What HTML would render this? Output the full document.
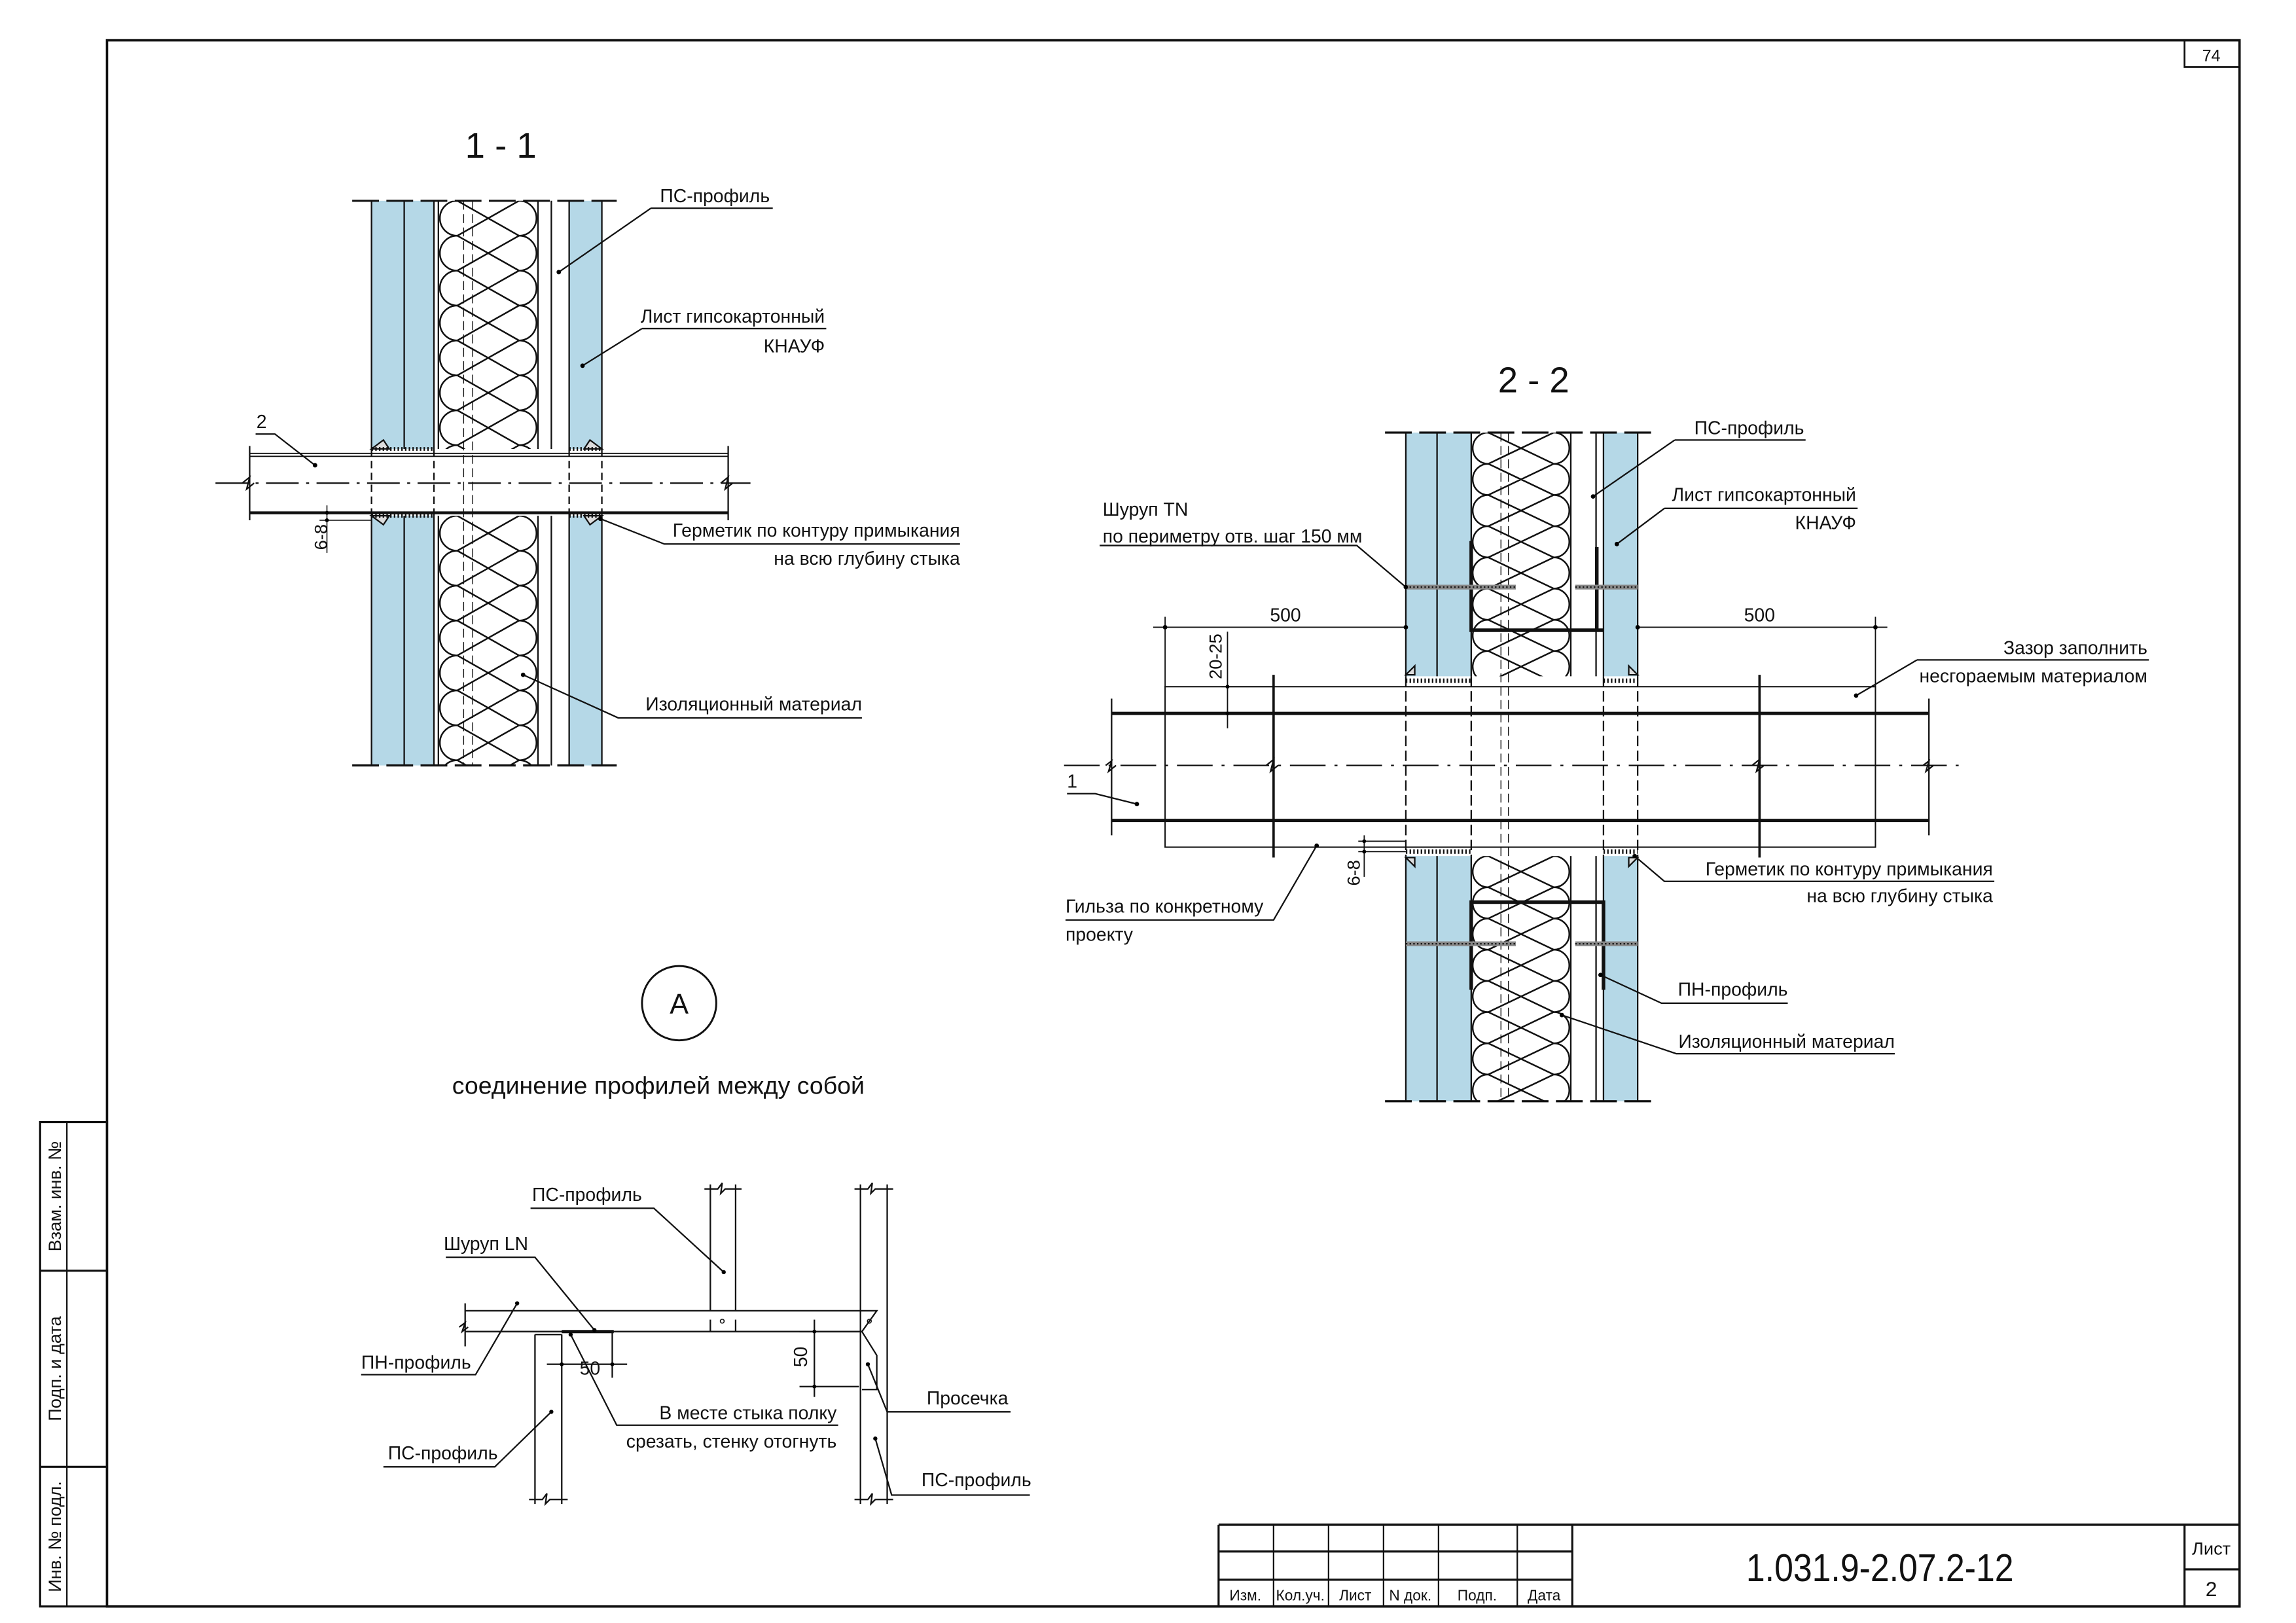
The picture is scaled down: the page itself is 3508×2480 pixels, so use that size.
<!DOCTYPE html>
<html><head><meta charset="utf-8"><style>
html,body{margin:0;padding:0;background:#fff}
svg{display:block}
text{font-family:"Liberation Sans Narrow","Liberation Sans",sans-serif;fill:#111}
</style></head><body>
<svg id="s" width="3508" height="2480" viewBox="0 0 1545 1092" xmlns="http://www.w3.org/2000/svg">
<defs>
<clipPath id="c1a"><rect x="293" y="135" width="71" height="167"/></clipPath>
<clipPath id="c1b"><rect x="293" y="347" width="71" height="168"/></clipPath>
<clipPath id="c2a"><rect x="988" y="291" width="71" height="164"/></clipPath>
<clipPath id="c2b"><rect x="988" y="576" width="71" height="165"/></clipPath>
</defs>
<rect width="1545" height="1092" fill="#fff"/>
<!-- frame -->
<g fill="none" stroke="#111">
<rect x="72" y="27" width="1435" height="1054" stroke-width="1.6"/>
<rect x="1470" y="27" width="37" height="18" stroke-width="1.2"/>
<rect x="27" y="755" width="45" height="326" stroke-width="1.4"/>
<line x1="45" y1="755" x2="45" y2="1081" stroke-width="1"/>
<line x1="27" y1="855" x2="72" y2="855" stroke-width="1.4"/>
<line x1="27" y1="987" x2="72" y2="987" stroke-width="1.4"/>
<line x1="820" y1="1026" x2="1507" y2="1026" stroke-width="1.6"/>
<line x1="820" y1="1026" x2="820" y2="1081" stroke-width="1.4"/>
<line x1="857" y1="1026" x2="857" y2="1081" stroke-width="1"/>
<line x1="894" y1="1026" x2="894" y2="1081" stroke-width="1"/>
<line x1="931" y1="1026" x2="931" y2="1081" stroke-width="1"/>
<line x1="968" y1="1026" x2="968" y2="1081" stroke-width="1"/>
<line x1="1021" y1="1026" x2="1021" y2="1081" stroke-width="1"/>
<line x1="1058" y1="1026" x2="1058" y2="1081" stroke-width="1.4"/>
<line x1="820" y1="1044" x2="1058" y2="1044" stroke-width="1.4"/>
<line x1="820" y1="1063" x2="1058" y2="1063" stroke-width="1.4"/>
<line x1="1470" y1="1026" x2="1470" y2="1081" stroke-width="1.4"/>
<line x1="1470" y1="1056" x2="1507" y2="1056" stroke-width="1.4"/>
</g>
<g font-size="10" text-anchor="middle">
<text x="838" y="1077">Изм.</text><text x="875" y="1077">Кол.уч.</text><text x="912" y="1077">Лист</text>
<text x="949" y="1077">N док.</text><text x="994" y="1077">Подп.</text><text x="1039" y="1077">Дата</text>
<text x="1488" y="1046" font-size="12">Лист</text><text x="1488" y="1074" font-size="14">2</text>
<text x="1488" y="41" font-size="11">74</text>
<text x="1265" y="1064" font-size="26" textLength="180" lengthAdjust="spacingAndGlyphs">1.031.9-2.07.2-12</text>
</g>
<g font-size="12" text-anchor="middle">
<text transform="translate(41,805) rotate(-90)">Взам. инв. №</text>
<text transform="translate(41,921) rotate(-90)">Подп. и дата</text>
<text transform="translate(41,1034) rotate(-90)">Инв. № подл.</text>
</g>

<!-- ============ 1-1 ============ -->
<text x="337" y="106" font-size="24" text-anchor="middle" font-family="Liberation Sans,sans-serif">1 - 1</text>
<g>
<rect x="250" y="135" width="42" height="167" fill="#b5d8e7"/>
<rect x="250" y="347" width="42" height="168" fill="#b5d8e7"/>
<rect x="383" y="135" width="22" height="167" fill="#b5d8e7"/>
<rect x="383" y="347" width="22" height="168" fill="#b5d8e7"/>
<g stroke="#111" stroke-width="1" fill="none">
<path d="M250 135V302M272 135V302M292 135V302M295 135V302M362 135V302M371 135V302M383 135V302M405 135V302"/>
<path d="M250 347V515M272 347V515M292 347V515M295 347V515M362 347V515M371 347V515M383 347V515M405 347V515"/>
<path d="M312 135V515M318 135V515" stroke-dasharray="6 3" stroke-width="0.6"/>
<path d="M250 302V347M292 302V347M383 302V347M405 302V347" stroke-dasharray="5 3"/>
<path d="M237 135H415M237 515H415" stroke-dasharray="18 5" stroke-width="1.4"/>
<g id="ins1a" clip-path="url(#c1a)"></g><g id="ins1b" clip-path="url(#c1b)"></g>
<path d="M250 302 L258 296 L262 302 Z M250 347 L258 353 L262 347 Z M405 302 L397 296 L393 302 Z M405 347 L397 353 L393 347 Z" fill="#ddd"/>
<path d="M250 302H292M383 302H405M250 347H292M383 347H405" stroke-dasharray="1 1.5" stroke-width="2.5"/>
<path d="M168 305H490M168 307H490" stroke-width="0.8"/>
<path d="M168 345H490" stroke-width="2"/>
<path d="M168 300V350M490 300V350"/>
<path d="M145 325H505" stroke-dasharray="22 5 2 5"/>
<path d="M163 325 l5 -4 l-2 8 l5 -4M485 325 l5 -4 l-2 8 l5 -4"/>
<path d="M220 340V372M215 345H250M215 350H250" stroke-width="0.7"/>
</g>
<circle cx="220" cy="345" r="1.3"/><circle cx="220" cy="350" r="1.3"/>
<text transform="translate(220,370) rotate(-90)" font-size="12">6-8</text>
<g stroke="#111" stroke-width="1" fill="none">
<path d="M438 140H520M438 140L376 183"/>
<path d="M432 221H556M432 221L392 246"/>
<path d="M172 292H185L212 313"/>
<path d="M404 349L447 366H646"/>
<path d="M352 454L416 483H580"/>
</g>
<circle cx="376" cy="183" r="1.5"/><circle cx="392" cy="246" r="1.5"/><circle cx="212" cy="313" r="1.5"/><circle cx="404" cy="349" r="1.5"/><circle cx="352" cy="454" r="1.5"/>
<g font-size="12.5">
<text x="518" y="136" text-anchor="end">ПС-профиль</text>
<text x="555" y="217" text-anchor="end">Лист гипсокартонный</text>
<text x="555" y="237" text-anchor="end">КНАУФ</text>
<text x="176" y="288" text-anchor="middle">2</text>
<text x="646" y="361" text-anchor="end">Герметик по контуру примыкания</text>
<text x="646" y="380" text-anchor="end">на всю глубину стыка</text>
<text x="580" y="478" text-anchor="end">Изоляционный материал</text>
</g>
</g>

<!-- ============ 2-2 ============ -->
<text x="1032" y="264" font-size="24" text-anchor="middle" font-family="Liberation Sans,sans-serif">2 - 2</text>
<g>
<rect x="946" y="291" width="44" height="164" fill="#b5d8e7"/>
<rect x="946" y="576" width="44" height="165" fill="#b5d8e7"/>
<rect x="1079" y="291" width="23" height="164" fill="#b5d8e7"/>
<rect x="1079" y="576" width="23" height="165" fill="#b5d8e7"/>
<g stroke="#111" stroke-width="1" fill="none">
<path d="M946 291V455M967 291V455M990 291V455M1057 291V455M1074 291V455M1079 291V455M1102 291V455"/>
<path d="M946 576V741M967 576V741M990 576V741M1057 576V741M1074 576V741M1079 576V741M1102 576V741"/>
<path d="M1010 291V741M1015 291V741" stroke-dasharray="6 3" stroke-width="0.6"/>
<path d="M946 455V576M990 455V576M1079 455V576M1102 455V576" stroke-dasharray="7 3"/>
<path d="M932 291H1115M932 741H1115" stroke-dasharray="18 5" stroke-width="1.4"/>
<g id="ins2a" clip-path="url(#c2a)"></g><g id="ins2b" clip-path="url(#c2b)"></g>
<path d="M990 364V424H1079M1074.5 368V424" stroke-width="2.4"/>
<path d="M990 666V607H1079V666" stroke-width="2.4"/>
<path d="M946 395H1020M1060 395H1102M946 635H1020M1060 635H1102" stroke-width="3.2" stroke="#888"/>
<path d="M946 395H1020M1060 395H1102M946 635H1020M1060 635H1102" stroke-width="1" stroke-dasharray="1 1.5"/>
<path d="M946 458H990M1079 458H1102M946 573H990M1079 573H1102" stroke-dasharray="1 1.5" stroke-width="3"/>
<path d="M946 454l6 -6v6zM1102 454l-6 -6v6zM946 577l6 6v-6zM1102 577l-6 6v-6z" fill="#ddd"/>
<rect x="784" y="462" width="478" height="108" stroke-width="0.9"/>
<path d="M748 480H1298M748 552H1298" stroke-width="2.2"/>
<path d="M748 470V562M1298 470V562"/>
<path d="M716 515H1321" stroke-dasharray="24 6 2 6"/>
<path d="M744 515l4 -3l-2 7l5 -4M1294 515l4 -3l-2 7l5 -4"/>
<path d="M857 454V577M1184 454V577" stroke-width="1.6"/>
<path d="M852 515l5 -4l-2 8l5 -4M1179 515l5 -4l-2 8l5 -4"/>
<path d="M784 415V462M1262 415V462M776 422H946M1102 422H1270" stroke-width="0.8"/>
<path d="M826 425V490M822 462H857M822 480H857" stroke-width="0.8"/>
<path d="M918 562V590M914 566H946M914 573H946" stroke-width="0.8"/>
</g>
<g font-size="12.5">
<circle cx="784" cy="422" r="1.5"/><circle cx="946" cy="422" r="1.5"/><circle cx="1102" cy="422" r="1.5"/><circle cx="1262" cy="422" r="1.5"/>
<circle cx="826" cy="462" r="1.3"/><circle cx="826" cy="480" r="1.3"/><circle cx="918" cy="566" r="1.3"/><circle cx="918" cy="573" r="1.3"/>
<text x="865" y="418" text-anchor="middle">500</text>
<text x="1184" y="418" text-anchor="middle">500</text>
<text transform="translate(822,457) rotate(-90)" font-size="12">20-25</text>
<text transform="translate(915,596) rotate(-90)" font-size="12">6-8</text>
</g>
<g stroke="#111" stroke-width="1" fill="none">
<path d="M1127 296H1215M1127 296L1072 334"/>
<path d="M1120 342H1250M1120 342L1088 366"/>
<path d="M740 367H913L946 395"/>
<path d="M1290 444H1446M1290 444L1249 468"/>
<path d="M1100 576L1120 593H1342"/>
<path d="M1077 656L1118 675H1203"/>
<path d="M1051 683L1128 709H1275"/>
<path d="M717 619H857L886 569"/>
<path d="M718 534H737L765 541"/>
</g>
<g>
<circle cx="1072" cy="334" r="1.5"/><circle cx="1088" cy="366" r="1.5"/><circle cx="946" cy="395" r="1.5"/><circle cx="1249" cy="468" r="1.5"/><circle cx="1100" cy="576" r="1.5"/><circle cx="1077" cy="656" r="1.5"/><circle cx="1051" cy="683" r="1.5"/><circle cx="886" cy="569" r="1.5"/><circle cx="765" cy="541" r="1.5"/>
</g>
<g font-size="12.5">
<text x="1214" y="292" text-anchor="end">ПС-профиль</text>
<text x="1249" y="337" text-anchor="end">Лист гипсокартонный</text>
<text x="1249" y="356" text-anchor="end">КНАУФ</text>
<text x="742" y="347">Шуруп TN</text>
<text x="742" y="365">по периметру отв. шаг 150 мм</text>
<text x="1445" y="440" text-anchor="end">Зазор заполнить</text>
<text x="1445" y="459" text-anchor="end">несгораемым материалом</text>
<text x="1341" y="589" text-anchor="end">Герметик по контуру примыкания</text>
<text x="1341" y="607" text-anchor="end">на всю глубину стыка</text>
<text x="1203" y="670" text-anchor="end">ПН-профиль</text>
<text x="1275" y="705" text-anchor="end">Изоляционный материал</text>
<text x="717" y="614">Гильза по конкретному</text>
<text x="717" y="633">проекту</text>
<text x="718" y="530">1</text>
</g>
</g>

<!-- ============ A ============ -->
<circle cx="457" cy="675" r="25" fill="none" stroke="#111" stroke-width="1.3"/>
<text x="457" y="682" font-size="19" text-anchor="middle" font-family="Liberation Sans,sans-serif">А</text>
<text x="443" y="736" font-size="16.5" text-anchor="middle">соединение профилей между собой</text>

<g stroke="#111" stroke-width="1" fill="none">
<path d="M313 882H590L580 896H313M313 877V906"/>
<path d="M309 893l4 -3l-2 6l4 -3"/>
<path d="M478 797V882M495 797V882M478 896V888M495 896V888"/>
<path d="M474 800H483l3 -4l-1 7l3 -3H499"/>
<path d="M579 797V1012M597 797V1012"/>
<path d="M575 800H584l3 -4l-1 7l3 -3H601M575 1009H584l3 -4l-1 7l3 -3H601"/>
<path d="M580 896L590 912V935H580"/>
<path d="M360 898V1012M378 898V1012M360 898H378"/>
<path d="M356 1009H365l3 -4l-1 7l3 -3H382"/>
<path d="M378 896H413" stroke-width="2.2"/>
<path d="M412 897V927M368 918H422"/>
<path d="M548 888V940M538 896H578M538 933H578"/>
<path d="M357 813H440L487 856"/>
<path d="M300 846H360L400 895"/>
<path d="M243 925H320L348 877"/>
<path d="M258 987H333L371 950"/>
<path d="M384 898L415 959H564"/>
<path d="M584 918L597 950H680"/>
<path d="M589 968L600 1006H693"/>
</g>
<g>
<circle cx="487" cy="856" r="1.4"/><circle cx="400" cy="895" r="1.4"/><circle cx="348" cy="877" r="1.4"/><circle cx="371" cy="950" r="1.4"/><circle cx="384" cy="898" r="1.4"/><circle cx="584" cy="918" r="1.4"/><circle cx="589" cy="968" r="1.4"/>
<circle cx="378" cy="918" r="1.3"/><circle cx="412" cy="918" r="1.3"/><circle cx="548" cy="896" r="1.3"/><circle cx="548" cy="933" r="1.3"/>
<circle cx="486" cy="889" r="1.3" fill="none" stroke="#111" stroke-width=".7"/><circle cx="585" cy="889" r="1.3" fill="none" stroke="#111" stroke-width=".7"/>
</g>
<g font-size="12.5">
<text x="395" y="808" text-anchor="middle">ПС-профиль</text>
<text x="327" y="841" text-anchor="middle">Шуруп LN</text>
<text x="280" y="921" text-anchor="middle">ПН-профиль</text>
<text x="298" y="982" text-anchor="middle">ПС-профиль</text>
<text x="563" y="955" text-anchor="end">В месте стыка полку</text>
<text x="563" y="974" text-anchor="end">срезать, стенку отогнуть</text>
<text x="651" y="945" text-anchor="middle">Просечка</text>
<text x="657" y="1000" text-anchor="middle">ПС-профиль</text>
<text x="397" y="925" text-anchor="middle">50</text>
<text transform="translate(543,920) rotate(-90)">50</text>
</g>
</svg>
<script>
(function(){
var NS="http://www.w3.org/2000/svg";
function ins(id,L,R,y0,y1,d){
  var g=document.getElementById(id),s="";
  var r=d/2;
  for(var y=y0;y<y1+d;y+=d){
    s+="M"+(L+r)+" "+y+"A"+r+" "+r+" 0 0 0 "+(L+r)+" "+(y+d);
    s+="M"+(R-r)+" "+y+"A"+r+" "+r+" 0 0 1 "+(R-r)+" "+(y+d);
    s+="M"+(L+r)+" "+y+"L"+(R-r)+" "+(y+d);
    s+="M"+(R-r)+" "+y+"L"+(L+r)+" "+(y+d);
  }
  var p=document.createElementNS(NS,"path");
  p.setAttribute("d",s);p.setAttribute("stroke","#111");p.setAttribute("stroke-width","1.1");p.setAttribute("fill","none");
  g.appendChild(p);
}
ins("ins1a",296,361,135,302,23.5);
ins("ins1b",296,361,347,515,23.5);
ins("ins2a",991,1056,291,455,21);
ins("ins2b",991,1056,576,741,21);
})();
</script>
</body></html>
